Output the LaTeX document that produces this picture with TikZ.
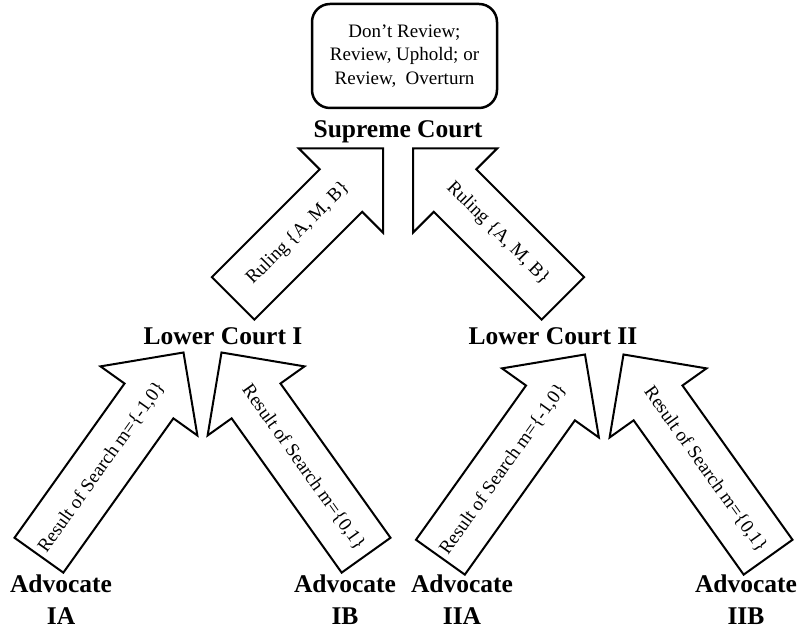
\documentclass[tikz,border=0pt]{standalone}
\usepackage{fontspec}
\setmainfont{Liberation Serif}
\newcommand\BlkArr[8]{%
  % #1 name, #2 tip x, #3 tip y, #4 angle, #5 length, #6 text rotation, #7 text pos, #8 text
  \begin{scope}[shift={(#2,#3)}, rotate=#4]
    \coordinate (#1-tip) at (0,0);
    \coordinate (#1-tail) at (-#5,0);
    \draw[blk] (#1-tip) -- (-59.5,59.5) -- (-59.5,30) -- (-#5,30) -- (-#5,-30)
      -- (-59.5,-30) -- (-59.5,-59.5) -- cycle;
    \node[arrtxt, transform shape, rotate=#6] (#1-lbl) at (#7,0) {#8};
  \end{scope}}
\begin{document}
\begin{tikzpicture}[x=1pt,y=1pt,
  blk/.style={draw=black, line width=2pt, fill=white},
  arrtxt/.style={inner sep=0pt, font=\fontsize{19}{22}\selectfont},
  lbl/.style={inner sep=0pt, font=\fontsize{25.5}{32}\selectfont\bfseries, align=center},
  decision/.style={draw=black, line width=2.5pt, rounded corners=18pt, minimum width=185pt,
    minimum height=104pt, align=center, font=\fontsize{19}{23.5}\selectfont}]
\useasboundingbox (0,0) rectangle (801,629);
\fill[white] (0,0) rectangle (801,629);

\node[decision] (box) at (404.5,573) {Don’t Review;\\Review, Uphold; or\\Review,~ Overturn};

\node[lbl, anchor=base] (sc) at (398,491) {Supreme Court};
\node[lbl, anchor=base] (lc1) at (223,284) {Lower Court I};
\node[lbl, anchor=base] (lc2) at (553,284) {Lower Court II};

\node[lbl, anchor=south] (aIA) at (61,4) {Advocate\\IA};
\node[lbl, anchor=south] (aIB) at (345,4) {Advocate\\IB};
\node[lbl, anchor=south] (aIIA) at (462,4) {Advocate\\IIA};
\node[lbl, anchor=south] (aIIB) at (746,4) {Advocate\\IIB};

\BlkArr{ul}{383}{480.5}{45}{212}{0}{-120}{Ruling \{A, M, B\}}
\BlkArr{ur}{413}{480.5}{135}{212}{180}{-120}{Ruling \{A, M, B\}}

\BlkArr{ia}{183.5}{276.5}{54.5}{249}{0}{-141}{Result of Search m=\{-1,0\}}
\BlkArr{ib}{221.5}{276.5}{125.5}{249}{180}{-141}{Result of Search m=\{0,1\}}
\BlkArr{iia}{585}{274.5}{54.5}{249}{0}{-141}{Result of Search m=\{-1,0\}}
\BlkArr{iib}{623.5}{274.5}{125.5}{249}{180}{-141}{Result of Search m=\{0,1\}}
\end{tikzpicture}
\end{document}
